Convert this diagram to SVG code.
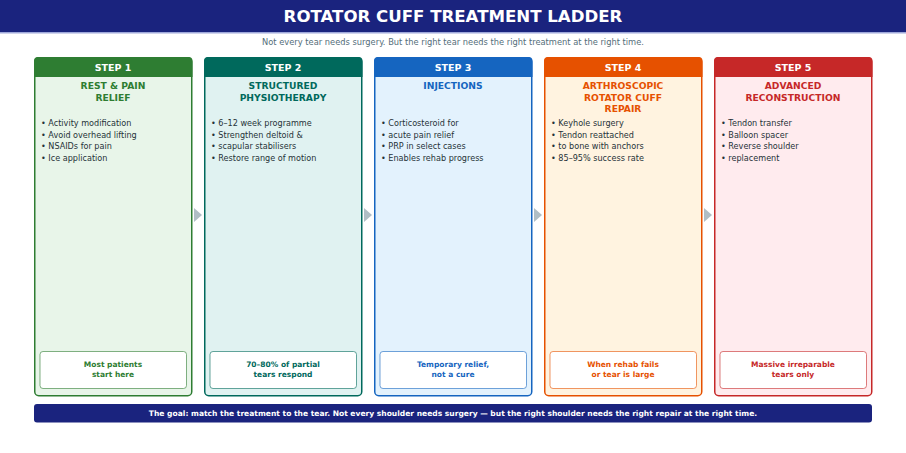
<svg xmlns="http://www.w3.org/2000/svg" width="906" height="453" viewBox="0 0 906 453">
<style>
text{font-family:"DejaVu Sans","Noto Sans",sans-serif}
.title{font-size:16.6px;font-weight:bold;fill:#fff}
.sub{font-size:8.3px;fill:#546e7a}
.hd{font-size:9.5px;font-weight:bold;fill:#fff}
.nm{font-size:9.2px;font-weight:bold}
.bl{font-size:8.1px;fill:#263238}
.note{font-size:7.5px;font-weight:bold}
.foot{font-size:7.55px;font-weight:bold;fill:#fff}
.arr{fill:#b0bec5}
</style>
<rect x="0" y="0" width="906" height="32" fill="#1a237e"/>
<rect x="0" y="32" width="906" height="1.5" fill="#9fa8da"/>
<text class="title" x="453" y="22" text-anchor="middle">ROTATOR CUFF TREATMENT LADDER</text>
<text class="sub" x="453" y="45" text-anchor="middle">Not every tear needs surgery. But the right tear needs the right treatment at the right time.</text>

<g id="connectors">
<polygon class="arr" points="194,208 202,215 194,222"/>
<polygon class="arr" points="364,208 372,215 364,222"/>
<polygon class="arr" points="534,208 542,215 534,222"/>
<polygon class="arr" points="704,208 712,215 704,222"/>
</g>

<g id="step1">
<rect x="34.75" y="57.75" width="157" height="338" rx="4" fill="#e8f5e9" stroke="#2e7d32" stroke-width="1.5"/>
<path d="M34,77 V61 a4,4 0 0 1 4,-4 H188.5 a4,4 0 0 1 4,4 V77 Z" fill="#2e7d32"/>
<text class="hd" x="113" y="71" text-anchor="middle">STEP 1</text>
<text class="nm" x="113" y="89" text-anchor="middle" fill="#2e7d32">REST &amp; PAIN</text>
<text class="nm" x="113" y="100.5" text-anchor="middle" fill="#2e7d32">RELIEF</text>
<text class="bl" x="41" y="126">• Activity modification</text>
<text class="bl" x="41" y="137.5">• Avoid overhead lifting</text>
<text class="bl" x="41" y="149">• NSAIDs for pain</text>
<text class="bl" x="41" y="160.5">• Ice application</text>
<rect x="40" y="351.5" width="146.5" height="37" rx="3" fill="#fff" stroke="#2e7d32" stroke-opacity="0.6" stroke-width="1"/>
<text class="note" x="113" y="367" text-anchor="middle" fill="#2e7d32">Most patients</text>
<text class="note" x="113" y="376.5" text-anchor="middle" fill="#2e7d32">start here</text>
</g>

<g id="step2">
<rect x="204.75" y="57.75" width="157" height="338" rx="4" fill="#e0f2f1" stroke="#00695c" stroke-width="1.5"/>
<path d="M204,77 V61 a4,4 0 0 1 4,-4 H358.5 a4,4 0 0 1 4,4 V77 Z" fill="#00695c"/>
<text class="hd" x="283" y="71" text-anchor="middle">STEP 2</text>
<text class="nm" x="283" y="89" text-anchor="middle" fill="#00695c">STRUCTURED</text>
<text class="nm" x="283" y="100.5" text-anchor="middle" fill="#00695c">PHYSIOTHERAPY</text>
<text class="bl" x="211" y="126">• 6–12 week programme</text>
<text class="bl" x="211" y="137.5">• Strengthen deltoid &amp;</text>
<text class="bl" x="211" y="149">• scapular stabilisers</text>
<text class="bl" x="211" y="160.5">• Restore range of motion</text>
<rect x="210" y="351.5" width="146.5" height="37" rx="3" fill="#fff" stroke="#00695c" stroke-opacity="0.6" stroke-width="1"/>
<text class="note" x="283" y="367" text-anchor="middle" fill="#00695c">70–80% of partial</text>
<text class="note" x="283" y="376.5" text-anchor="middle" fill="#00695c">tears respond</text>
</g>

<g id="step3">
<rect x="374.75" y="57.75" width="157" height="338" rx="4" fill="#e3f2fd" stroke="#1565c0" stroke-width="1.5"/>
<path d="M374,77 V61 a4,4 0 0 1 4,-4 H528.5 a4,4 0 0 1 4,4 V77 Z" fill="#1565c0"/>
<text class="hd" x="453" y="71" text-anchor="middle">STEP 3</text>
<text class="nm" x="453" y="89" text-anchor="middle" fill="#1565c0">INJECTIONS</text>
<text class="bl" x="381" y="126">• Corticosteroid for</text>
<text class="bl" x="381" y="137.5">• acute pain relief</text>
<text class="bl" x="381" y="149">• PRP in select cases</text>
<text class="bl" x="381" y="160.5">• Enables rehab progress</text>
<rect x="380" y="351.5" width="146.5" height="37" rx="3" fill="#fff" stroke="#1565c0" stroke-opacity="0.6" stroke-width="1"/>
<text class="note" x="453" y="367" text-anchor="middle" fill="#1565c0">Temporary relief,</text>
<text class="note" x="453" y="376.5" text-anchor="middle" fill="#1565c0">not a cure</text>
</g>

<g id="step4">
<rect x="544.75" y="57.75" width="157" height="338" rx="4" fill="#fff3e0" stroke="#e65100" stroke-width="1.5"/>
<path d="M544,77 V61 a4,4 0 0 1 4,-4 H698.5 a4,4 0 0 1 4,4 V77 Z" fill="#e65100"/>
<text class="hd" x="623" y="71" text-anchor="middle">STEP 4</text>
<text class="nm" x="623" y="89" text-anchor="middle" fill="#e65100">ARTHROSCOPIC</text>
<text class="nm" x="623" y="100.5" text-anchor="middle" fill="#e65100">ROTATOR CUFF</text>
<text class="nm" x="623" y="112" text-anchor="middle" fill="#e65100">REPAIR</text>
<text class="bl" x="551" y="126">• Keyhole surgery</text>
<text class="bl" x="551" y="137.5">• Tendon reattached</text>
<text class="bl" x="551" y="149">• to bone with anchors</text>
<text class="bl" x="551" y="160.5">• 85–95% success rate</text>
<rect x="550" y="351.5" width="146.5" height="37" rx="3" fill="#fff" stroke="#e65100" stroke-opacity="0.6" stroke-width="1"/>
<text class="note" x="623" y="367" text-anchor="middle" fill="#e65100">When rehab fails</text>
<text class="note" x="623" y="376.5" text-anchor="middle" fill="#e65100">or tear is large</text>
</g>

<g id="step5">
<rect x="714.75" y="57.75" width="157" height="338" rx="4" fill="#ffebee" stroke="#c62828" stroke-width="1.5"/>
<path d="M714,77 V61 a4,4 0 0 1 4,-4 H868.5 a4,4 0 0 1 4,4 V77 Z" fill="#c62828"/>
<text class="hd" x="793" y="71" text-anchor="middle">STEP 5</text>
<text class="nm" x="793" y="89" text-anchor="middle" fill="#c62828">ADVANCED</text>
<text class="nm" x="793" y="100.5" text-anchor="middle" fill="#c62828">RECONSTRUCTION</text>
<text class="bl" x="721" y="126">• Tendon transfer</text>
<text class="bl" x="721" y="137.5">• Balloon spacer</text>
<text class="bl" x="721" y="149">• Reverse shoulder</text>
<text class="bl" x="721" y="160.5">• replacement</text>
<rect x="720" y="351.5" width="146.5" height="37" rx="3" fill="#fff" stroke="#c62828" stroke-opacity="0.6" stroke-width="1"/>
<text class="note" x="793" y="367" text-anchor="middle" fill="#c62828">Massive irreparable</text>
<text class="note" x="793" y="376.5" text-anchor="middle" fill="#c62828">tears only</text>
</g>

<g id="footer">
<rect x="34" y="404" width="838" height="18.5" rx="3" fill="#1a237e"/>
<text class="foot" x="453" y="416" text-anchor="middle">The goal: match the treatment to the tear. Not every shoulder needs surgery — but the right shoulder needs the right repair at the right time.</text>
</g>
</svg>
